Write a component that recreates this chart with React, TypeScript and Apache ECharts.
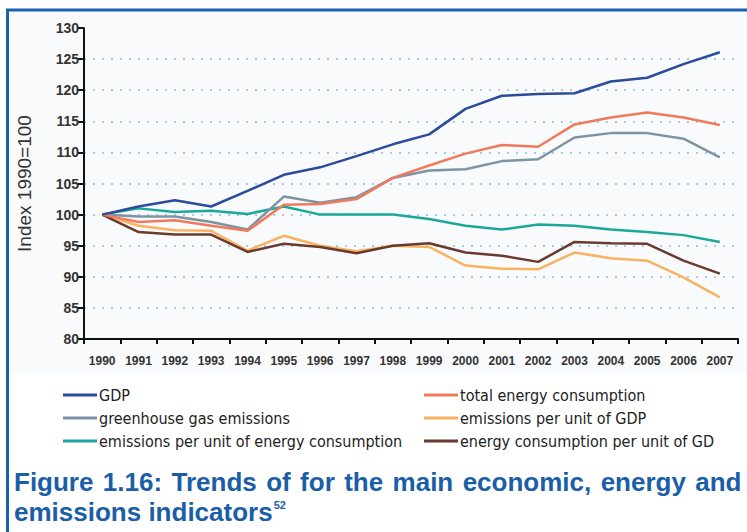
import React, { useEffect, useRef } from "react";
import * as echarts from "echarts";

const years = ["1990","1991","1992","1993","1994","1995","1996","1997","1998","1999","2000","2001","2002","2003","2004","2005","2006","2007"];
const gdp = [100, 101.3, 102.3, 101.3, 103.8, 106.4, 107.6, 109.4, 111.3, 112.9, 117.0, 119.1, 119.4, 119.5, 121.4, 122.0, 124.2, 126.1];
const totalEnergy = [100, 98.8, 99.1, 98.2, 97.4, 101.6, 101.7, 102.5, 105.9, 107.9, 109.8, 111.2, 110.9, 114.5, 115.6, 116.4, 115.6, 114.4];
const ghg = [100, 99.7, 99.7, 98.8, 97.6, 102.9, 101.9, 102.8, 105.9, 107.1, 107.3, 108.6, 108.9, 112.4, 113.1, 113.1, 112.2, 109.2];
const emPerGdp = [100, 98.2, 97.5, 97.4, 94.2, 96.6, 95.0, 94.1, 95.0, 94.8, 91.8, 91.3, 91.2, 93.9, 93.0, 92.6, 89.9, 86.7];
const emPerEnergy = [100, 101.0, 100.4, 100.6, 100.1, 101.3, 100.0, 100.0, 100.0, 99.3, 98.2, 97.6, 98.4, 98.2, 97.6, 97.2, 96.7, 95.6];
const energyPerGdp = [100, 97.2, 96.8, 96.8, 94.0, 95.3, 94.8, 93.8, 95.0, 95.4, 93.9, 93.4, 92.4, 95.6, 95.4, 95.3, 92.6, 90.5];

const names = [
  "GDP",
  "total energy consumption",
  "greenhouse gas emissions",
  "emissions per unit of GDP",
  "emissions per unit of energy consumption",
  "energy consumption per unit of GD",
];
const colors = ["#2b4c9b", "#f07a5c", "#7d93a4", "#f7b262", "#1ba89b", "#6a3a2f"];
const seriesData = [gdp, totalEnergy, ghg, emPerGdp, emPerEnergy, energyPerGdp];

const captionLine1 = "Figure 1.16: Trends of for the main economic, energy and";
const captionLine2 = "emissions indicators";
const captionNote = "52";

const tickFont = "'Liberation Sans', Arial, sans-serif";
const legendFont = "'DejaVu Sans Condensed', 'DejaVu Sans', sans-serif";
const captionFont = "'Liberation Sans', Arial, sans-serif";
const captionColor = "#1b5ea8";

export default function App() {
  const ref = useRef<HTMLDivElement>(null);
  useEffect(() => {
    if (!ref.current) return;
    const chart = echarts.init(ref.current, null, { renderer: "svg" });
    const drawOrder = [4, 3, 5, 2, 1, 0];
    const legendCommon = {
      top: 387,
      orient: "vertical",
      padding: 0,
      icon: "rect",
      itemWidth: 34,
      itemHeight: 3,
      itemGap: 7,
      textStyle: { color: "#222", fontSize: 16, lineHeight: 16, fontFamily: legendFont, padding: [0, 0, 0, -3] },
    };
    // justified first caption line: words as rich tokens, spaces widened
    const words = captionLine1.split(" ");
    const line1Rich = words.map((w) => `{w|${w}}`).join("{sp| }");
    chart.setOption({
      animation: false,
      backgroundColor: "#ffffff",
      grid: { left: 84, right: 9, top: 28, bottom: 193, containLabel: false },
      xAxis: {
        type: "category",
        data: years,
        boundaryGap: true,
        axisLine: { lineStyle: { color: "#111", width: 2 } },
        axisTick: { show: true, length: 5, lineStyle: { color: "#111", width: 2 }, alignWithLabel: false },
        axisLabel: { color: "#333", fontSize: 12, fontWeight: "bold", fontFamily: tickFont, margin: 16, interval: 0 },
        splitLine: { show: false },
      },
      yAxis: {
        type: "value",
        min: 80,
        max: 130,
        interval: 5,
        name: "Index 1990=100",
        nameLocation: "middle",
        nameGap: 50,
        nameTextStyle: { color: "#333", fontSize: 19, fontFamily: "'Liberation Sans', Arial, sans-serif" },
        axisLine: { show: true, lineStyle: { color: "#111", width: 2 } },
        axisTick: { show: true, length: 7, lineStyle: { color: "#111", width: 2 } },
        axisLabel: { color: "#333", fontSize: 14, fontWeight: "bold", fontFamily: tickFont, margin: 5 },
        splitLine: {
          show: true,
          showMinLine: false,
          showMaxLine: false,
          lineStyle: { color: "#a2cde8", width: 2, type: [2, 7] },
        },
      },
      legend: [
        { ...legendCommon, left: 63, data: [names[0], names[2], names[4]] },
        { ...legendCommon, left: 424, data: [names[1], names[3], names[5]] },
      ],
      series: drawOrder.map((i, k) => ({
        name: names[i],
        type: "line",
        data: seriesData[i],
        symbol: "none",
        showSymbol: false,
        z: 2 + k,
        lineStyle: { color: colors[i], width: 2.5 },
        itemStyle: { color: colors[i] },
      })),
      graphic: [
        { type: "rect", z: -10, shape: { x: 8, y: 11, width: 739, height: 362 }, style: { fill: "#f9fafc" } },
        { type: "line", shape: { x1: 6, y1: 10, x2: 747, y2: 10 }, style: { stroke: "#1a60b0", lineWidth: 3 } },
        { type: "line", shape: { x1: 7.5, y1: 9, x2: 7.5, y2: 532 }, style: { stroke: "#1a60b0", lineWidth: 3 } },
        {
          type: "text",
          left: 14,
          top: 469,
          style: {
            text: line1Rich,
            rich: {
              w: { fill: captionColor, fontSize: 26, fontWeight: "bold", fontFamily: captionFont },
              sp: { fill: captionColor, fontSize: 26, fontWeight: "bold", fontFamily: captionFont, width: 9.4 },
            },
          },
        },
        {
          type: "text",
          left: 14,
          top: 499,
          style: {
            text: `{a|${captionLine2}}{s|${captionNote}}`,
            rich: {
              a: { fill: captionColor, fontSize: 26, fontWeight: "bold", fontFamily: captionFont },
              s: { fill: captionColor, fontSize: 11, fontWeight: "bold", fontFamily: captionFont, verticalAlign: "top", padding: [0, 0, 14, 1] },
            },
          },
        },
      ],
    });
    return () => chart.dispose();
  }, []);
  return (
    <div style={{ position: "fixed", left: 0, top: 0, width: 747, height: 532, background: "#fff" }}>
      <div ref={ref} style={{ width: 747, height: 532 }} />
    </div>
  );
}
